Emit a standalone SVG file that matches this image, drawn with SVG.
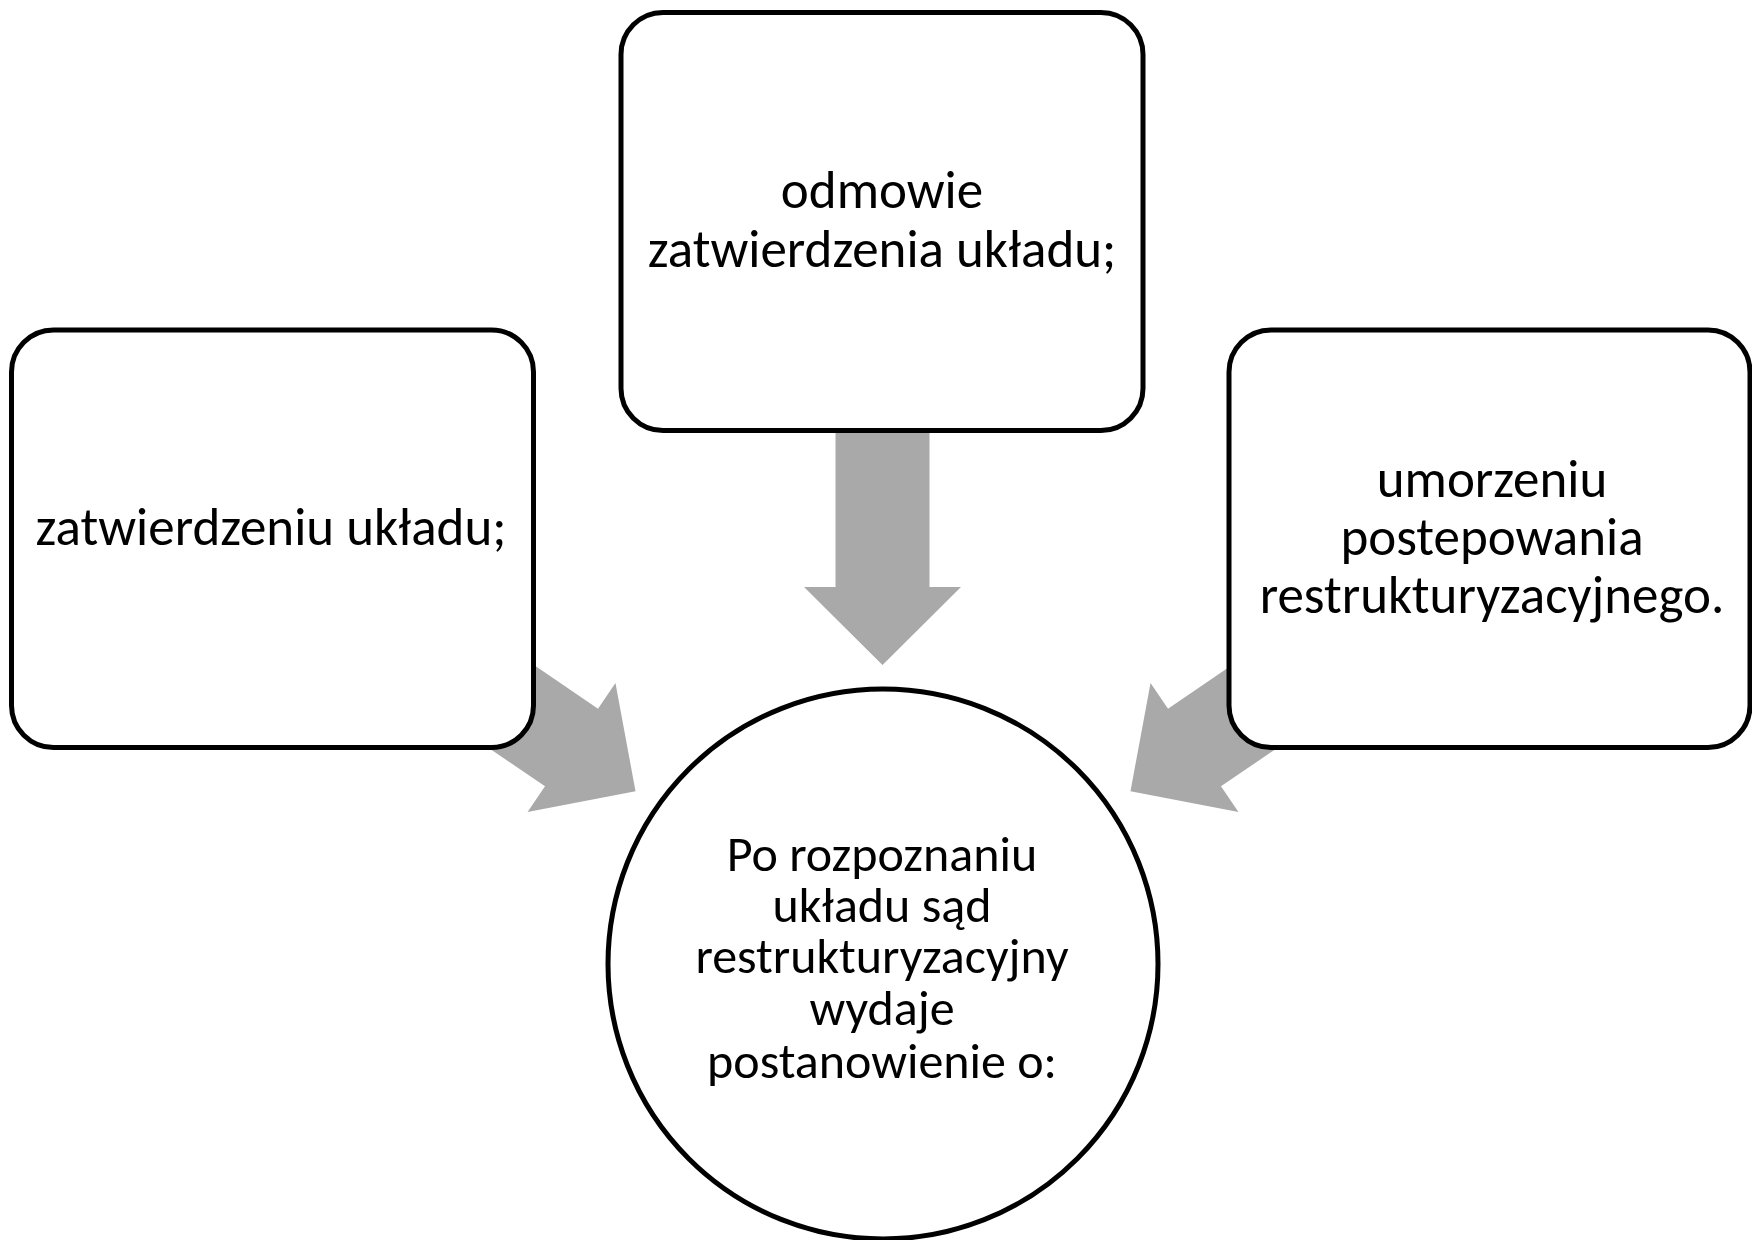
<svg xmlns="http://www.w3.org/2000/svg" width="1752" height="1240" viewBox="0 0 1752 1240">
<style>
.box{fill:#ffffff;stroke:#000000;stroke-width:5}
.arrow{fill:#a9a9a9;stroke:none}
.t{font-family:Carlito,Lato,"Open Sans",sans-serif;fill:#000000;text-anchor:middle}
.tb{font-size:53px}
.tc{font-size:50px}
</style>
<defs>
<polygon id="blockArrow" points="-160,-47 0,-47 0,-78 77.5,0 0,78 0,47 -160,47"/>
</defs>
<rect width="1752" height="1240" fill="#ffffff"/>
<g id="connectors">
<polygon class="arrow" points="835.5,420 929.5,420 929.5,587 961,587 882.5,665 804,587 835.5,587"/>
<use href="#blockArrow" class="arrow" transform="translate(571.5,747.5) rotate(34.3)"/>
<use href="#blockArrow" class="arrow" transform="translate(1766,0) scale(-1,1) translate(571.5,747.5) rotate(34.3)"/>
</g>
<g id="node-top">
<rect class="box" x="621" y="12.5" width="522" height="418" rx="42" ry="42"/>
<text class="t tb" x="882" y="208.3">odmowie</text>
<text class="t tb" x="882" y="266.7">zatwierdzenia układu;</text>
</g>
<g id="node-left">
<rect class="box" x="11.5" y="330" width="522" height="417.5" rx="42" ry="42"/>
<text class="t tb" x="271" y="545">zatwierdzeniu układu;</text>
</g>
<g id="node-right">
<rect class="box" x="1229" y="330" width="521" height="417.5" rx="42" ry="42"/>
<text class="t tb" x="1492" y="496.7">umorzeniu</text>
<text class="t tb" x="1492" y="555">postepowania</text>
<text class="t tb" x="1492" y="613.3">restrukturyzacyjnego.</text>
</g>
<g id="node-center">
<circle class="box" cx="883" cy="964" r="275"/>
<text class="t tc" x="882" y="870.7">Po rozpoznaniu</text>
<text class="t tc" x="882" y="921.7">układu sąd</text>
<text class="t tc" x="882" y="973">restrukturyzacyjny</text>
<text class="t tc" x="882" y="1025">wydaje</text>
<text class="t tc" x="882" y="1078">postanowienie o:</text>
</g>
</svg>
